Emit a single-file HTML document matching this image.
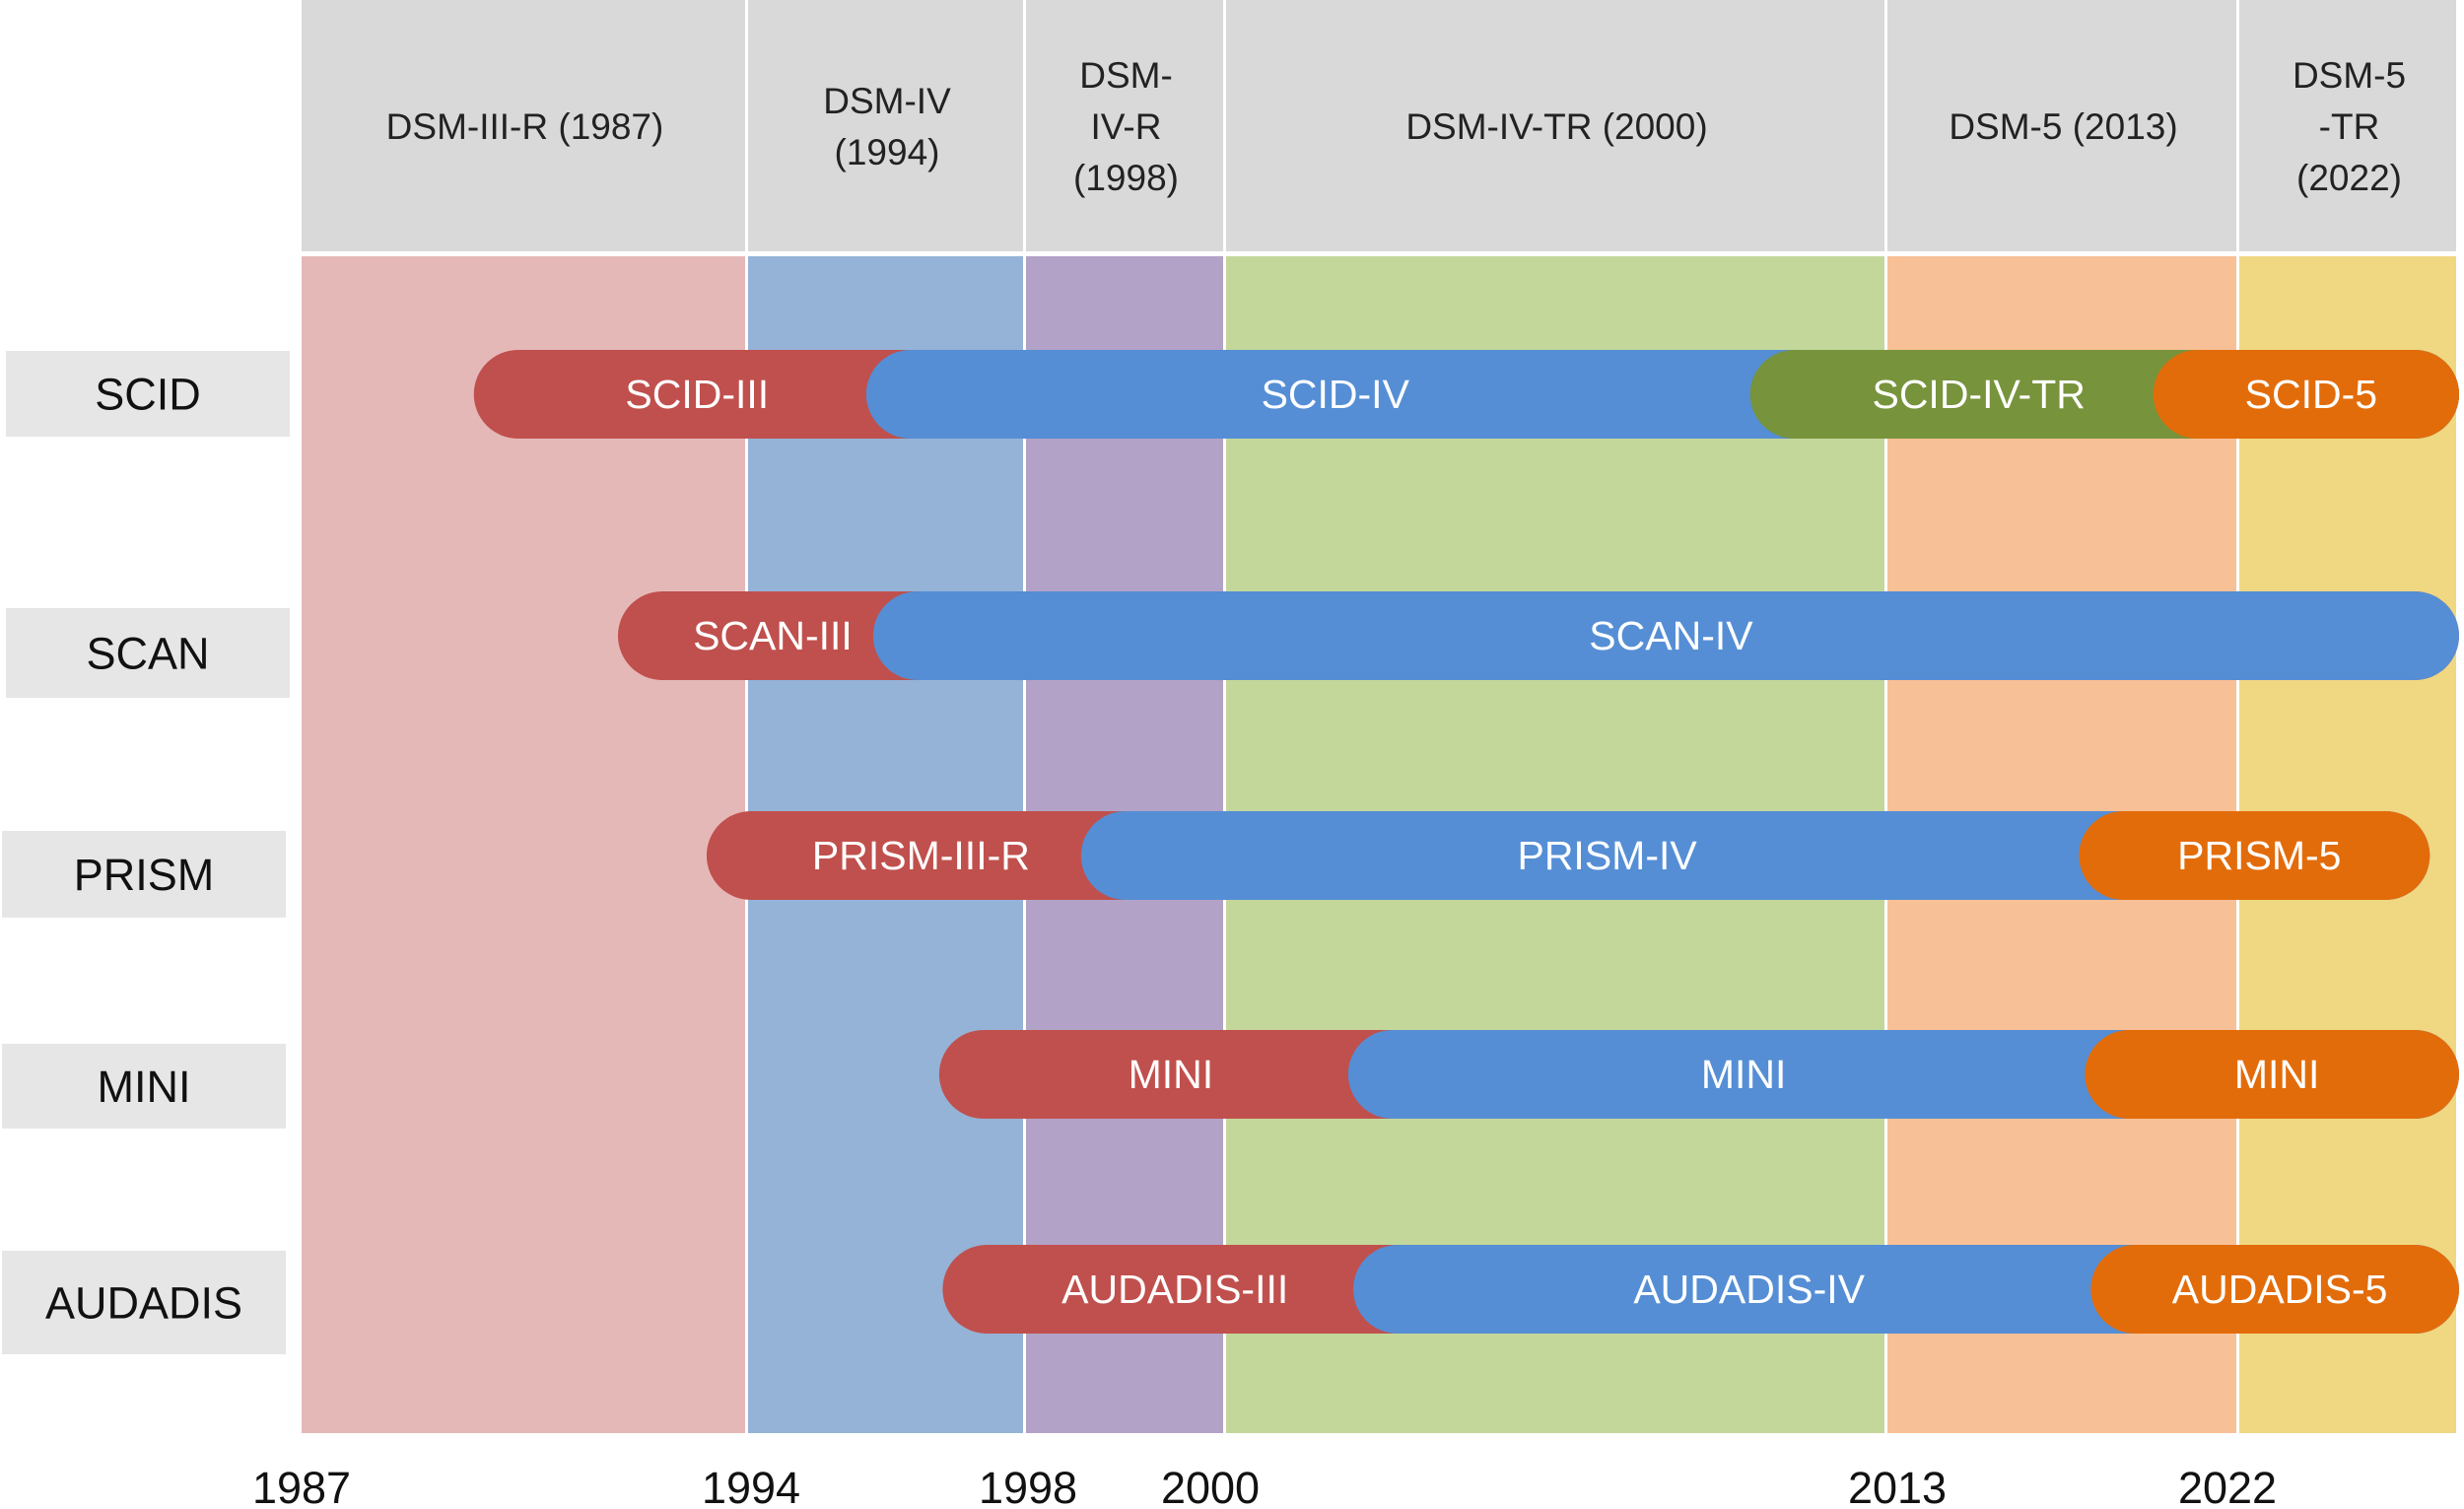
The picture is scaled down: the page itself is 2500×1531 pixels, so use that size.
<!DOCTYPE html>
<html><head><meta charset="utf-8"><style>
html,body{margin:0;padding:0;background:#fff;}
svg{display:block;font-family:"Liberation Sans",sans-serif;}
</style></head><body>
<svg id="chart" width="2500" height="1531" viewBox="0 0 2500 1531"></svg>
<script>
const edgeYears=[1987,1994,1998,2000,2013,2022,2025];
const edgePx=[306,759,1041,1244,1915,2272,2495];
const eraLabels=[["DSM-III-R (1987)"],["DSM-IV","(1994)"],["DSM-","IV-R","(1998)"],["DSM-IV-TR (2000)"],["DSM-5 (2013)"],["DSM-5","-TR","(2022)"]];
const eraColors=["#e5b8b8","#95b3d7","#b3a2c7","#c4d79b","#f8c096","#f0d782"];
const tickYears=[1987,1994,1998,2000,2013,2022];
const tickPx=[306,762,1043,1228,1925,2260];
const instruments=["SCID","SCAN","PRISM","MINI","AUDADIS"];
const rowY=[400,645,868,1090,1308];
const labelTop=[356,617,843,1059,1269];
const labelBottom=[443,708,931,1145,1374];
const segNames=[["SCID-III","SCID-IV","SCID-IV-TR","SCID-5"],["SCAN-III","SCAN-IV"],["PRISM-III-R","PRISM-IV","PRISM-5"],["MINI","MINI","MINI"],["AUDADIS-III","AUDADIS-IV","AUDADIS-5"]];
const segStarts=[[1989.7,1995.7,2010.3,2019.8],[1991.96,1995.8],[1993.35,1998.55,2017.9],[1996.75,2002.4,2018.05],[1996.8,2002.5,2018.2]];
const segEnds=[2025,2025,2024.6,2025,2025];
const segColors=[["#c0504d","#558ed5","#77933c","#e36c0a"],["#c0504d","#558ed5"],["#c0504d","#558ed5","#e36c0a"],["#c0504d","#558ed5","#e36c0a"],["#c0504d","#558ed5","#e36c0a"]];
function xScale(y){for(let i=0;i<edgeYears.length-1;i++){if(y<=edgeYears[i+1]||i==edgeYears.length-2){return edgePx[i]+(y-edgeYears[i])/(edgeYears[i+1]-edgeYears[i])*(edgePx[i+1]-edgePx[i]);}}}
const svg=document.getElementById('chart');const NS="http://www.w3.org/2000/svg";
function mk(t,a,p){const e=document.createElementNS(NS,t);for(const k in a)e.setAttribute(k,a[k]);(p||svg).appendChild(e);return e;}
for(let i=0;i<eraColors.length;i++){
 const x0=xScale(edgeYears[i]),x1=xScale(edgeYears[i+1]);
 const h=mk('rect',{x:x0,y:0,width:x1-x0-3,height:255,fill:"#d9d9d9"});
 
 
 const b=mk('rect',{x:x0,y:260,width:x1-x0-3,height:1194,fill:eraColors[i]});
 
 
 const lines=eraLabels[i];const cx=(x0+x1)/2;
 lines.forEach((l,j)=>{const t=mk('text',{x:cx,y:128+(j-(lines.length-1)/2)*52+13,'text-anchor':'middle','font-size':37,fill:'#222'});t.textContent=l;
 
 });
}
tickYears.forEach((y,i)=>{const t=mk('text',{x:tickPx[i],y:1525,'text-anchor':'middle','font-size':45,fill:'#111'});t.textContent=y;
 
 });
instruments.forEach((n,r)=>{
 const g=mk('rect',{x:r<2?6:2,y:labelTop[r],width:288,height:labelBottom[r]-labelTop[r],fill:'#e6e6e6'});
 
 
 const t=mk('text',{x:r<2?150:146,y:(labelTop[r]+labelBottom[r])/2+16,'text-anchor':'middle','font-size':45,fill:'#111'});t.textContent=n;
 
 
 const st=segStarts[r];const endX=xScale(segEnds[r]);
 st.forEach((s,k)=>{
  const x0=xScale(s);
  const bar=mk('rect',{x:x0,y:rowY[r]-45,width:endX-x0,height:90,rx:45,ry:45,fill:segColors[r][k]});
  
  
 });
 st.forEach((s,k)=>{
  const x0=xScale(s);const x1=k<st.length-1?xScale(st[k+1])+55:endX+10;
  const lt=mk('text',{x:(x0+x1)/2,y:rowY[r]+14,'text-anchor':'middle','font-size':41,fill:'#fff'});lt.textContent=segNames[r][k];
  
  
 });
});
</script>
</body></html>
